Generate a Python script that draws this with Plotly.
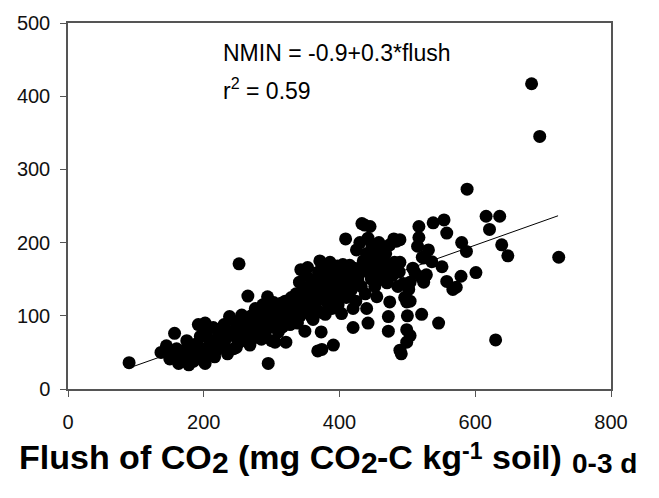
import plotly.graph_objects as go

# CO2 flush (mg CO2-C/kg soil, 0-3 d) vs. net N mineralization
flush = [
    90, 137, 145, 150, 152, 157, 160, 163, 165, 168, 172, 175, 178, 180, 182, 185, 188, 190,
    192, 195, 197, 200, 202, 202, 204, 207, 209, 212, 214, 216, 218, 220, 222, 224, 226, 229,
    230, 232, 235, 238, 240, 242, 244, 246, 248, 248, 250, 252, 254, 256, 258, 260, 262, 264,
    265, 267, 268, 270, 272, 274, 276, 278, 279, 281, 282, 284, 285, 287, 289, 290, 292, 294,
    295, 297, 298, 300, 302, 303, 305, 306, 308, 310, 311, 313, 314, 316, 318, 320, 321, 322,
    324, 326, 327, 329, 330, 332, 334, 336, 338, 340, 341, 342, 343, 345, 347, 349, 350, 351,
    353, 354, 356, 358, 360, 361, 362, 364, 365, 367, 368, 369, 370, 371, 372, 373, 374, 375,
    376, 378, 379, 380, 382, 383, 385, 386, 388, 389, 390, 391, 392, 394, 395, 397, 398, 400,
    401, 403, 405, 406, 407, 409, 410, 412, 413, 415, 417, 418, 420, 420, 422, 424, 425, 427,
    428, 430, 432, 433, 435, 436, 437, 438, 440, 440, 442, 442, 443, 445, 445, 447, 448, 449,
    450, 452, 453, 455, 456, 458, 460, 462, 464, 466, 468, 470, 472, 472, 474, 474, 476, 478,
    480, 481, 484, 486, 488, 489, 489, 489, 491, 494, 496, 499, 499, 499, 500, 502, 504, 504,
    504, 508, 511, 515, 517, 517, 520, 521, 522, 524, 524, 528, 531, 536, 538, 546, 551, 554,
    558, 558, 567, 572, 579, 580, 587, 588, 601, 616, 621, 630, 636, 639, 648, 683, 695, 723,
]
nmin = [
    36, 50, 59, 41, 48, 76, 55, 35, 45, 52, 40, 66, 33, 58, 45, 38, 50, 62,
    88, 72, 42, 55, 35, 90, 78, 48, 66, 60, 84, 44, 52, 70, 80, 75, 58, 61,
    88, 68, 48, 99, 78, 77, 55, 92, 57, 70, 84, 171, 65, 101, 84, 72, 95, 88,
    127, 90, 60, 100, 80, 70, 110, 85, 93, 75, 106, 98, 68, 115, 90, 75, 82, 126,
    35, 84, 105, 66, 95, 118, 64, 88, 110, 78, 100, 92, 117, 85, 105, 120, 64, 95,
    112, 104, 88, 125, 98, 118, 108, 130, 90, 115, 146, 100, 163, 120, 135, 79, 110, 155,
    166, 125, 140, 100, 130, 95, 115, 150, 145, 120, 52, 160, 135, 175, 105, 78, 54, 128,
    148, 165, 102, 140, 118, 155, 130, 173, 145, 110, 160, 60, 125, 150, 135, 168, 115, 145,
    130, 103, 170, 155, 140, 205, 125, 160, 150, 169, 135, 145, 110, 84, 165, 120, 190, 148,
    155, 200, 140, 226, 175, 165, 224, 130, 110, 185, 90, 206, 160, 222, 168, 150, 195, 159,
    178, 140, 185, 126, 165, 200, 190, 150, 175, 160, 185, 145, 99, 79, 119, 197, 170, 155,
    205, 173, 202, 140, 160, 53, 204, 173, 48, 144, 125, 81, 64, 119, 100, 136, 146, 120,
    73, 165, 159, 195, 222, 207, 153, 102, 180, 179, 146, 156, 190, 174, 227, 90, 167, 231,
    213, 147, 136, 139, 154, 200, 188, 273, 159, 236, 218, 67, 236, 197, 182, 417, 345, 180,
]

# Fitted regression line
fit_intercept = -0.9
fit_slope = 0.329
fit_x = [90, 722]
fit_y = [fit_intercept + fit_slope * v for v in fit_x]

x_ticks = [0, 200, 400, 600, 800]
y_ticks = [0, 100, 200, 300, 400, 500]

# Axis title pieces: (text, role); subscripts drawn near full size, lowered
title_pieces = [
    ("Flush of CO", "main"), ("2", "sub"), (" ", "main"), ("(mg CO", "main"), ("2", "sub"),
    ("-C kg", "main"), ("-1", "sup"), (" ", "main"), ("soil)", "main"), (" ", "main"),
    ("0-3 d", "sub2"),
]

font_family = "Liberation Sans, Arial, sans-serif"

W, H = 659, 498
M_L, M_R, M_T, M_B = 68, 48, 15, 109
PLOT_W = W - M_L - M_R
PLOT_H = H - M_T - M_B

# Bold Arial/Liberation Sans advance widths (em/1000)
BOLD_W = {
    "F": 611, "l": 278, "u": 611, "s": 556, "h": 611, " ": 278, "o": 611, "f": 333,
    "C": 722, "O": 778, "(": 333, "m": 889, "g": 611, "-": 333, "k": 556, "i": 278,
    ")": 333, "0": 556, "1": 556, "2": 556, "3": 556, "d": 611,
}
ROLE_STYLE = {  # font size, baseline px
    "main": (34, 470),
    "sub": (30, 475),
    "sup": (23, 460),
    "sub2": (28, 475),
}


def text_width(txt, size):
    return sum(BOLD_W[c] for c in txt) / 1000.0 * size


fig = go.Figure()
fig.add_trace(go.Scatter(
    x=flush, y=nmin, mode="markers",
    marker=dict(size=13, color="black", line=dict(width=0)),
    showlegend=False, hoverinfo="x+y",
))
fig.add_trace(go.Scatter(
    x=fit_x, y=fit_y, mode="lines",
    line=dict(color="black", width=1),
    showlegend=False, hoverinfo="skip",
))

axis_common = dict(
    showline=True, linecolor="#555555", linewidth=1.5, mirror=True,
    ticks="outside", ticklen=6, tickcolor="#555555", tickwidth=1,
    showgrid=False, zeroline=False,
    tickfont=dict(family=font_family, size=20, color="#111111"),
)

annotations = [
    dict(x=226, y=459, xref="x", yref="y", xanchor="left", yanchor="middle",
         text="NMIN = -0.9+0.3*flush", showarrow=False,
         font=dict(family=font_family, size=23, color="black")),
    dict(x=226, y=410, xref="x", yref="y", xanchor="left", yanchor="middle",
         text="r<sup>2</sup> = 0.59", showarrow=False,
         font=dict(family=font_family, size=23, color="black")),
]

cursor = 19.0
for txt, role in title_pieces:
    size, baseline = ROLE_STYLE[role]
    w = text_width(txt, size)
    if txt.strip():
        center_y = baseline - 0.3465 * size
        annotations.append(dict(
            x=(cursor - M_L) / PLOT_W, y=(H - M_B - center_y) / PLOT_H,
            xref="paper", yref="paper", xanchor="left", yanchor="middle",
            text="<b>" + txt + "</b>", showarrow=False, borderpad=0, borderwidth=0,
            font=dict(family=font_family, size=size, color="black"),
        ))
    cursor += w

fig.update_layout(
    width=W, height=H,
    margin=dict(l=M_L, r=M_R, t=M_T, b=M_B),
    paper_bgcolor="white", plot_bgcolor="white",
    xaxis=dict(range=[0, 800], tickvals=x_ticks, ticktext=[str(v) for v in x_ticks],
               ticklabelstandoff=8, **axis_common),
    yaxis=dict(range=[0, 500], tickvals=y_ticks, ticktext=[str(v) for v in y_ticks],
               ticklabelstandoff=6, **axis_common),
    annotations=annotations,
)

fig.write_html("out.html")
